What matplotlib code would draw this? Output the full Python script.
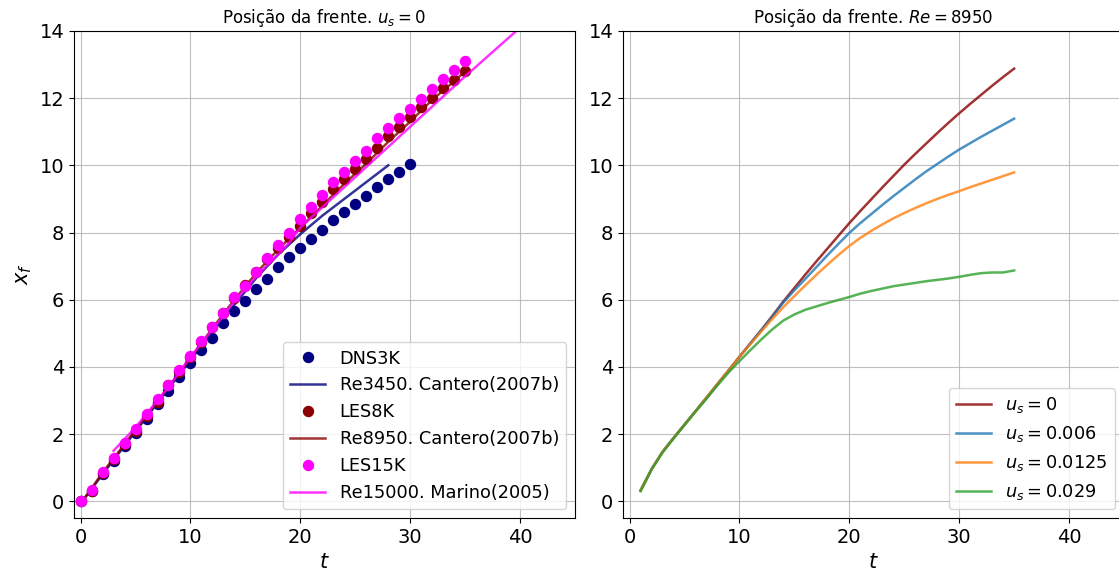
import numpy as np
import matplotlib
matplotlib.use("Agg")
import matplotlib.pyplot as plt

# ---- Left panel: front position, u_s = 0 ----
t_dns3k = list(range(0, 31))
x_dns3k = [0.0, 0.3, 0.8, 1.2, 1.65, 2.03, 2.45, 2.9, 3.29, 3.69, 4.11, 4.49, 4.87,
           5.3, 5.65, 5.97, 6.32, 6.61, 6.97, 7.26, 7.53, 7.8, 8.08, 8.36, 8.61, 8.84,
           9.1, 9.35, 9.58, 9.81, 10.04]

t_les8k = list(range(0, 36))
x_les8k = [0.0, 0.3, 0.85, 1.25, 1.7, 2.1, 2.55, 2.95, 3.45, 3.85, 4.3, 4.75, 5.2,
           5.6, 6.05, 6.45, 6.83, 7.2, 7.53, 7.86, 8.2, 8.57, 8.92, 9.29, 9.58, 9.88,
           10.18, 10.52, 10.87, 11.15, 11.45, 11.74, 12.02, 12.29, 12.53, 12.81]

t_les15k = list(range(0, 36))
x_les15k = [0.0, 0.33, 0.86, 1.3, 1.73, 2.15, 2.6, 3.04, 3.46, 3.91, 4.31, 4.77, 5.2,
            5.6, 6.08, 6.42, 6.81, 7.24, 7.63, 8.0, 8.39, 8.75, 9.12, 9.49, 9.81, 10.13,
            10.44, 10.8, 11.1, 11.42, 11.69, 11.99, 12.26, 12.56, 12.83, 13.11]

t_cantero3450 = [0.5, 2, 4, 6, 8, 10, 12, 14, 16, 18, 20, 22, 24, 26, 28]
x_cantero3450 = [0.15, 0.8, 1.65, 2.5, 3.35, 4.2, 5.05, 5.85, 6.65, 7.35, 7.95, 8.5, 9.0, 9.5, 10.0]

t_cantero8950 = [0.5, 2, 4, 6, 8, 10, 12, 14, 16, 18, 20, 22, 24, 26, 28, 30, 32, 34, 35]
x_cantero8950 = [0.15, 0.85, 1.7, 2.55, 3.4, 4.25, 5.15, 6.0, 6.8, 7.5, 8.15, 8.8, 9.45,
                 10.05, 10.7, 11.3, 11.95, 12.5, 12.8]

t_marino = [3, 5, 8, 10, 12, 14, 16, 18, 19, 20, 25, 30, 35, 40, 41]
x_marino = [1.5, 2.2, 3.4, 4.3, 5.1, 5.95, 6.7, 7.35, 7.7, 8.15, 9.65, 11.15, 12.65, 14.1, 14.4]

# ---- Right panel: front position, Re = 8950 ----
t_settling = list(range(1, 36))
x_us0 = [0.32, 0.95, 1.47, 1.88, 2.28, 2.68, 3.08, 3.49, 3.89, 4.3, 4.7, 5.1, 5.52, 5.95,
         6.35, 6.75, 7.14, 7.52, 7.9, 8.28, 8.64, 8.99, 9.34, 9.68, 10.02, 10.34, 10.65,
         10.96, 11.26, 11.55, 11.83, 12.1, 12.37, 12.63, 12.88]
x_us0006 = [0.32, 0.95, 1.47, 1.88, 2.28, 2.68, 3.08, 3.49, 3.89, 4.3, 4.7, 5.1, 5.5,
            5.92, 6.28, 6.62, 6.97, 7.32, 7.66, 7.99, 8.28, 8.55, 8.82, 9.08, 9.33, 9.58,
            9.82, 10.04, 10.26, 10.47, 10.66, 10.85, 11.03, 11.21, 11.39]
x_us00125 = [0.32, 0.95, 1.47, 1.88, 2.28, 2.68, 3.08, 3.49, 3.89, 4.3, 4.68, 5.06, 5.43,
             5.78, 6.11, 6.43, 6.74, 7.04, 7.33, 7.6, 7.84, 8.05, 8.24, 8.42, 8.58, 8.73,
             8.87, 9.0, 9.12, 9.23, 9.35, 9.46, 9.57, 9.68, 9.79]
x_us0029 = [0.3, 0.95, 1.45, 1.87, 2.27, 2.67, 3.05, 3.45, 3.83, 4.17, 4.5, 4.82, 5.12,
            5.38, 5.56, 5.7, 5.8, 5.9, 5.99, 6.08, 6.18, 6.26, 6.33, 6.4, 6.45, 6.5,
            6.55, 6.59, 6.63, 6.68, 6.74, 6.79, 6.81, 6.81, 6.87]

settling_labels = [r"$u_s = 0$", r"$u_s = 0.006$", r"$u_s = 0.0125$", r"$u_s = 0.029$"]
settling_series = [x_us0, x_us0006, x_us00125, x_us0029]
settling_colors = ["darkred", "tab:blue", "tab:orange", "tab:green"]

x_ticks = [0, 10, 20, 30, 40]
y_ticks = [0, 2, 4, 6, 8, 10, 12, 14]

W, H = 1119, 576
fig = plt.figure(figsize=(W / 100, H / 100), dpi=100)

ax1 = fig.add_axes([74 / W, (H - 518) / H, 501 / W, 487 / H])
ax2 = fig.add_axes([623 / W, (H - 518) / H, 501 / W, 487 / H])

ms = 7.2
ax1.plot(t_dns3k, x_dns3k, "o", color="navy", ms=ms, label="DNS3K")
ax1.plot(t_cantero3450, x_cantero3450, "-", color="navy", alpha=0.8, lw=1.8,
         label="Re3450. Cantero(2007b)")
ax1.plot(t_les8k, x_les8k, "o", color="darkred", ms=ms, label="LES8K")
ax1.plot(t_cantero8950, x_cantero8950, "-", color="darkred", alpha=0.8, lw=1.8,
         label="Re8950. Cantero(2007b)")
ax1.plot(t_les15k, x_les15k, "o", color="magenta", ms=ms, label="LES15K")
ax1.plot(t_marino, x_marino, "-", color="magenta", alpha=0.8, lw=1.8,
         label="Re15000. Marino(2005)")

for xs, lab, col in zip(settling_series, settling_labels, settling_colors):
    ax2.plot(t_settling, xs, "-", color=col, alpha=0.8, lw=1.8, label=lab)

ax1.set_title(r"Posição da frente. $u_s = 0$", fontsize=12)
ax2.set_title(r"Posição da frente. $Re = 8950$", fontsize=12)
ax1.set_ylabel(r"$x_f$", fontsize=15)

for ax in (ax1, ax2):
    ax.set_xlim(-0.6, 45)
    ax.set_ylim(-0.5, 14)
    ax.set_xticks(x_ticks)
    ax.set_yticks(y_ticks)
    ax.tick_params(labelsize=14)
    ax.set_xlabel(r"$t$", fontsize=15)
    ax.grid(True, color="#b0b0b0", lw=0.8, alpha=0.8)
    ax.legend(loc="lower right", fontsize=12.8)

fig.savefig("out.png", dpi=100)
